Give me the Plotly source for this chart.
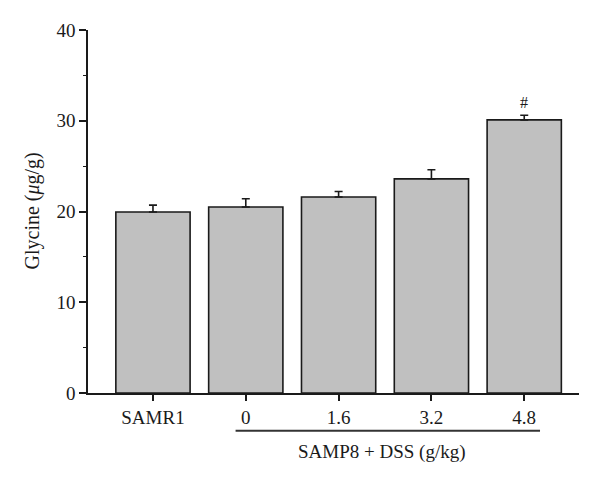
import plotly.graph_objects as go

groups = ["SAMR1", "0", "1.6", "3.2", "4.8"]
glycine = [19.95, 20.5, 21.6, 23.6, 30.1]
sem = [0.75, 0.9, 0.6, 1.0, 0.5]
marks = ["", "", "", "", "#"]

FONT = "Liberation Serif"

fig = go.Figure()
fig.add_trace(go.Bar(
    x=list(range(len(groups))),
    y=glycine,
    width=0.8,
    marker=dict(color="#c0c0c0", line=dict(color="#1a1a1a", width=1.6)),
    error_y=dict(type="data", array=sem, arrayminus=[0] * len(sem),
                 symmetric=False, color="#1a1a1a", thickness=1.6, width=4),
    showlegend=False,
))

# significance mark above the last bar
for i, m in enumerate(marks):
    if m:
        fig.add_annotation(x=i, y=glycine[i] + sem[i], text=m, showarrow=False,
                           yanchor="bottom", yshift=2,
                           font=dict(family=FONT, size=16, color="#1a1a1a"))

# bracket under the SAMP8 groups
fig.add_shape(type="line", xref="x", yref="paper", x0=0.89, x1=4.17,
              y0=-0.104, y1=-0.104, line=dict(color="#333", width=2))
fig.add_annotation(x=2.47, y=-0.128, xref="x", yref="paper",
                   text="SAMP8 + DSS (g/kg)", showarrow=False, yanchor="top",
                   font=dict(family=FONT, size=19, color="#1a1a1a"))
# y title
fig.add_annotation(x=0, xref="paper", xshift=-56, y=0.5, yref="paper",
                   text="Glycine (<i>μ</i>g/g)", showarrow=False, textangle=-90,
                   xanchor="center", yanchor="middle",
                   font=dict(family=FONT, size=20, color="#1a1a1a"))

fig.update_layout(
    width=592, height=471,
    margin=dict(l=80, r=21, t=22, b=86),
    plot_bgcolor="white", paper_bgcolor="white",
    font=dict(family=FONT, size=19, color="#1a1a1a"),
    bargap=0.2,
)
fig.update_xaxes(
    range=[-0.7, 4.59], tickmode="array",
    tickvals=list(range(len(groups))), ticktext=groups,
    showline=True, linecolor="#1a1a1a", linewidth=1.6,
    ticks="outside", ticklen=6, tickwidth=1.6, tickcolor="#1a1a1a",
    showgrid=False, zeroline=False, automargin=False,
)
fig.update_yaxes(
    range=[0, 40], tickvals=[0, 10, 20, 30, 40],
    showline=True, linecolor="#1a1a1a", linewidth=1.6,
    ticks="outside", ticklen=7, tickwidth=1.6, tickcolor="#1a1a1a",
    minor=dict(ticks="outside", ticklen=3, tickwidth=1.4, dtick=5, tickcolor="#1a1a1a"),
    showgrid=False, zeroline=False, automargin=False,
)

fig.write_html("out.html")
